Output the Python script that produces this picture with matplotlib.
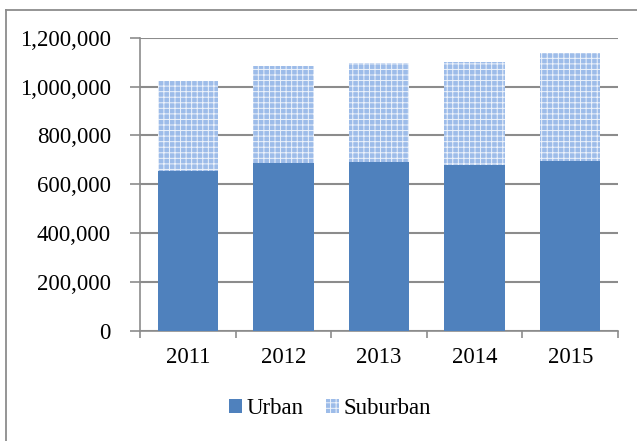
import numpy as np
import matplotlib
matplotlib.use("Agg")
import matplotlib.pyplot as plt
from matplotlib.patches import Rectangle
from matplotlib.ticker import FuncFormatter, FixedLocator

years = ["2011", "2012", "2013", "2014", "2015"]
urban = [656000, 686000, 690000, 680000, 696000]
total = [1023000, 1084000, 1097000, 1101000, 1138000]
suburban = [t - u for t, u in zip(total, urban)]

plt.rcParams['font.family'] = ['Liberation Serif', 'DejaVu Serif']
plt.rcParams['hatch.linewidth'] = 0.7

fig = plt.figure(figsize=(6.37, 4.41), dpi=100)
W, H = 637, 441
ax = fig.add_axes([140 / W, 1 - 330.7 / H, (618 - 140) / W, (330.7 - 37.9) / H])

# outer frame, only left and top edges fall inside the picture
fig.add_artist(plt.Line2D([5.5 / W, 5.5 / W], [0, 1 - 9.5 / H], color='#8c8c8c', linewidth=1.3))
fig.add_artist(plt.Line2D([5.5 / W, 1], [1 - 9.5 / H, 1 - 9.5 / H], color='#8c8c8c', linewidth=1.3))

x = np.arange(len(years))
blue = '#4f81bd'
ax.bar(x, urban, width=0.63, color=blue, edgecolor='none', zorder=3, label='Urban')
ax.bar(x, suburban, bottom=urban, width=0.63, facecolor='#9dbce9', edgecolor='#eef3fb',
       linewidth=0, hatch='+++', zorder=3, label='Suburban')

ax.set_xlim(-0.5, len(years) - 0.5)
ax.set_ylim(0, 1200000)
ax.set_yticks(np.arange(0, 1200001, 200000))
ax.yaxis.set_major_formatter(FuncFormatter(lambda v, p: f"{int(v):,}"))
ax.set_xticks(x)
ax.set_xticklabels(years)
ax.xaxis.set_minor_locator(FixedLocator(np.arange(-0.5, len(years), 1)))

gc = '#8c8c8c'
ax.grid(axis='y', color=gc, linewidth=1.5, zorder=0)
for s in ['top', 'right']:
    ax.spines[s].set_visible(False)
for s in ['left', 'bottom']:
    ax.spines[s].set_color(gc)
    ax.spines[s].set_linewidth(1.2)
ax.tick_params(axis='y', which='major', length=7, width=1.2, color=gc, pad=14, labelsize=16.5)
ax.tick_params(axis='x', which='major', length=0, pad=12, labelsize=16.5)
ax.tick_params(axis='x', which='minor', length=5, width=1.2, color=gc)

leg = fig.legend(loc='center', bbox_to_anchor=(330 / W, 1 - 409 / H), ncol=2, frameon=False,
                 fontsize=16.5, handlelength=0.55, handleheight=0.55, handletextpad=0.2,
                 columnspacing=1.0)

fig.savefig("out.png", dpi=100)
